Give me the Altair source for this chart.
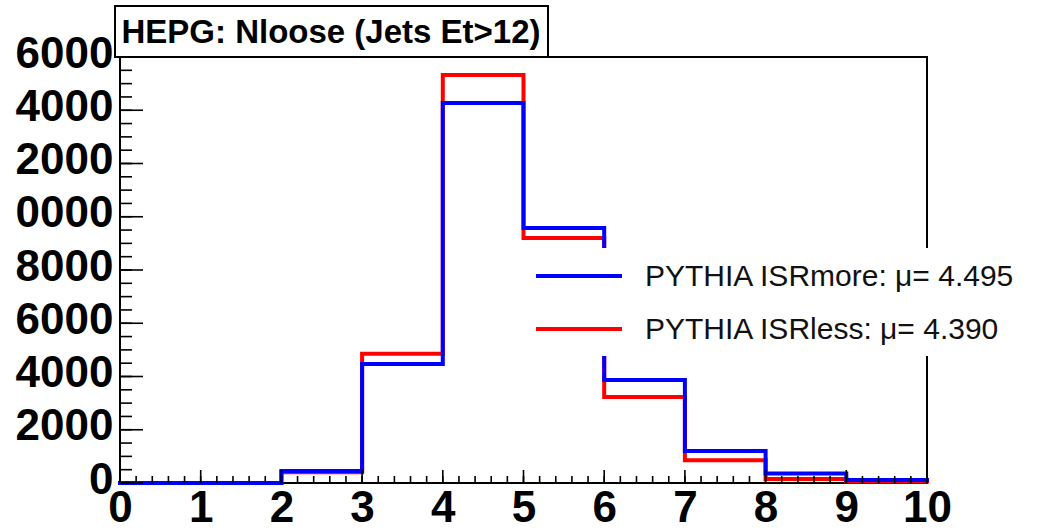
import altair as alt
import pandas as pd

# Jet multiplicity (Nloose, jets with Et > 12) for two PYTHIA ISR settings
bin_edges = [0, 1, 2, 3, 4, 5, 6, 7, 8, 9, 10]
isr_more = [0, 0, 450, 4470, 14270, 9580, 3870, 1200, 360, 110]
isr_less = [0, 0, 400, 4850, 15320, 9200, 3230, 850, 150, 60]

label_more = "PYTHIA ISRmore: μ= 4.495"
label_less = "PYTHIA ISRless: μ= 4.390"
color_more = "#0000ff"
color_less = "#ff0000"
plot_title = "HEPG: Nloose (Jets Et>12)"

x_labels = [0, 1, 2, 3, 4, 5, 6, 7, 8, 9, 10]
x_minor = [round(0.2 * i, 1) for i in range(51)]
y_labels = [0, 2000, 4000, 6000, 8000, 10000, 12000, 14000, 16000]
y_minor = list(range(0, 16001, 500))

W, H = 807, 426
LABEL_FONT = "Liberation Sans"


def step_frame(counts):
    # step-after lines need the last bin's height repeated at the right edge
    return pd.DataFrame({"n": bin_edges, "entries": counts + [counts[-1]]})


x_scale = alt.Scale(domain=[0, 10], nice=False, zero=False)
y_scale = alt.Scale(domain=[0, 16000], nice=False)

x_axis = alt.Axis(values=x_labels, format="d", ticks=False, domain=False, grid=False,
                  title=None, labelFont=LABEL_FONT, labelFontSize=44, labelFontWeight="bold",
                  labelColor="black", labelPadding=3, labelFlush=False, labelOverlap=False)
# the y labels lose their leading ten-thousands digit at the canvas edge
y_axis = alt.Axis(values=y_labels, ticks=False, domain=False, grid=False, title=None,
                  labelExpr="datum.value >= 10000 ? slice(toString(datum.value), 1) : toString(datum.value)",
                  labelFont=LABEL_FONT, labelFontSize=44, labelFontWeight="bold",
                  labelColor="black", labelPadding=7, labelBaseline="middle", labelOffset=-3,
                  labelFlush=False, labelOverlap=False)


def hist_layer(counts, stroke):
    return alt.Chart(step_frame(counts)).mark_line(
        interpolate="step-after", strokeWidth=4, strokeJoin="miter", strokeCap="square",
        color=stroke,
    ).encode(
        x=alt.X("n:Q", scale=x_scale, axis=x_axis),
        y=alt.Y("entries:Q", scale=y_scale, axis=y_axis),
    )


less_line = hist_layer(isr_less, color_less)
more_line = hist_layer(isr_more, color_more)

# inward-pointing ticks, drawn on top of the histograms
x_major_df = pd.DataFrame({"n": x_labels})
x_minor_df = pd.DataFrame({"n": x_minor})
y_major_df = pd.DataFrame({"entries": y_labels})
y_minor_df = pd.DataFrame({"entries": y_minor})

tick_style = dict(color="black", strokeWidth=1.6)
x_minor_ticks = alt.Chart(x_minor_df).mark_rule(**tick_style).encode(
    x=alt.X("n:Q", scale=x_scale), y=alt.value(H), y2=alt.value(H - 7))
x_major_ticks = alt.Chart(x_major_df).mark_rule(**tick_style).encode(
    x=alt.X("n:Q", scale=x_scale), y=alt.value(H), y2=alt.value(H - 13))
y_minor_ticks = alt.Chart(y_minor_df).mark_rule(**tick_style).encode(
    y=alt.Y("entries:Q", scale=y_scale), x=alt.value(0), x2=alt.value(12))
y_major_ticks = alt.Chart(y_major_df).mark_rule(**tick_style).encode(
    y=alt.Y("entries:Q", scale=y_scale), x=alt.value(0), x2=alt.value(23))

# legend: white panel with a line sample and a label per sample
legend_df = pd.DataFrame({"label": [label_more, label_less]})
legend_box = alt.Chart(legend_df.head(1)).mark_rect(fill="white").encode(
    x=alt.value(405), x2=alt.value(910), y=alt.value(191), y2=alt.value(299))


def legend_entry(label, stroke, y_px):
    df = pd.DataFrame({"label": [label]})
    sample = alt.Chart(df).mark_rule(color=stroke, strokeWidth=4).encode(
        x=alt.value(416), x2=alt.value(502), y=alt.value(y_px))
    text = alt.Chart(df).mark_text(
        font=LABEL_FONT, fontSize=30, color="#111111", align="left", baseline="middle"
    ).encode(x=alt.value(525), y=alt.value(y_px + 1), text="label:N")
    return sample + text


legend_more = legend_entry(label_more, color_more, 219)
legend_less = legend_entry(label_less, color_less, 272)

# boxed title in the top-left corner
title_df = pd.DataFrame({"t": [plot_title]})
title_box = alt.Chart(title_df).mark_rect(fill="white", stroke="black", strokeWidth=2).encode(
    x=alt.value(-5), x2=alt.value(428), y=alt.value(-51), y2=alt.value(0))
title_text = alt.Chart(title_df).mark_text(
    font=LABEL_FONT, fontSize=33, fontWeight="bold", color="black",
    align="center", baseline="middle").encode(
    x=alt.value(211), y=alt.value(-24), text="t:N")

chart = alt.layer(
    less_line, more_line,
    x_minor_ticks, x_major_ticks, y_minor_ticks, y_major_ticks,
    legend_box, legend_more, legend_less,
    title_box, title_text,
).properties(
    width=W, height=H,
    autosize=alt.AutoSizeParams(type="none"),
    padding={"left": 120, "top": 57, "right": 114, "bottom": 48},
    background="white",
).configure_view(stroke="black", strokeWidth=2)

chart.save("out.html", embed_options={"renderer": "svg", "actions": False})
